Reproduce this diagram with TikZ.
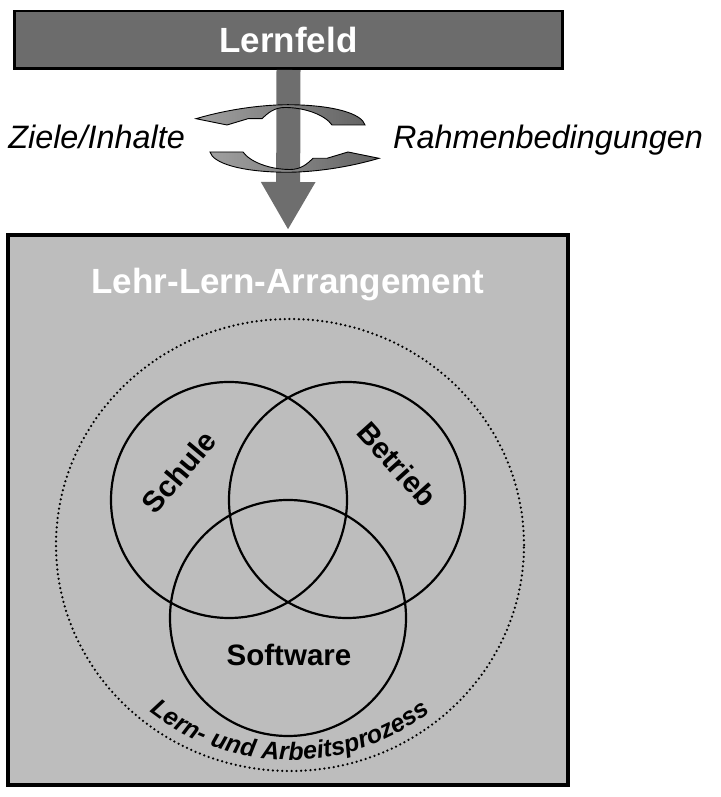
\documentclass[tikz,border=0pt]{standalone}
\usepackage{fontspec}
\setmainfont{Liberation Sans}
\usetikzlibrary{arrows.meta,positioning,decorations.text}
\definecolor{bargry}{RGB}{108,108,108}
\definecolor{boxgry}{RGB}{189,189,189}
\definecolor{arrgry}{RGB}{110,110,110}
\definecolor{turnlt}{RGB}{160,160,160}
\definecolor{turndk}{RGB}{100,100,100}
\newcommand\px[1]{\fontsize{#1}{#1}\selectfont}

\begin{document}
\begin{tikzpicture}[x=1pt,y=1pt,
  bar/.style={draw=black,line width=2.5pt,fill=bargry,minimum width=548pt,
    minimum height=57.5pt,inner sep=0pt,text=white,font=\px{35}\bfseries},
  arrbox/.style={draw=black,line width=4pt,fill=boxgry,minimum width=560pt,
    minimum height=550pt,inner sep=0pt},
  title/.style={inner sep=0pt,text=white,font=\px{35}\bfseries},
  side/.style={inner sep=0pt,font=\px{32.4}\itshape},
  ring/.style={draw=black,circle,line width=2.2pt,minimum size=236pt,inner sep=0pt},
  lbl/.style={inner sep=0pt,font=\px{29.5}\bfseries},
  downarr/.style={draw=arrgry,line width=24pt,shorten >=3pt,
    -{Triangle[width=51pt,length=48pt]}},
  turn/.style={left color=turnlt,right color=turndk,draw=black,line width=0.9pt}]
  \useasboundingbox (0,0) rectangle (720,797);
  \node[arrbox] (arrangement) at (288,287) {};
  \node[bar] (lernfeld) at (288.5,757) {Lernfeld};
  \draw[downarr] (lernfeld.south) -- (arrangement.north);
  \foreach \r in {0,180}
    \path[turn,rotate around={\r:(287.5,658.5)}] (365,672)
      .. controls (362,683) and (335,692) .. (288,692.3)
      .. controls (255,692) and (222,686) .. (196,678.3)
      -- (227,672) -- (248,678.3) -- (262,678.3)
      .. controls (268,684) and (274,689.5) .. (285,689.5)
      .. controls (305,689.5) and (325,682) .. (332,672) -- cycle;
  \node[side,anchor=base east] (ziele) at (185,648) {Ziele/Inhalte};
  \node[side,anchor=base west] (rahmen) at (393,648) {Rahmenbedingungen};
  \node[title,below=34.5pt of arrangement.north] (llatitle) {Lehr-Lern-Arrangement};
  \draw[line width=2.5pt,line cap=round,dash pattern=on 0pt off 4.7pt]
    (290,252) ellipse[x radius=234,y radius=226];
  \node[ring] (schule) at (229,297) {};
  \node[ring] (betrieb) at (347,297) {};
  \node[ring] (software) at (288,179) {};
  \node[lbl,rotate=50] (schuletxt) at (179,325) {Schule};
  \node[lbl,rotate=-48] (betriebtxt) at (397,333) {Betrieb};
  \node[lbl,anchor=base] (softwaretxt) at (289,131) {Software};
  \path[decorate,decoration={text along path,text align=center,
      text={|\px{25}\bfseries\itshape|Lern- und Arbeitsprozess}}]
    ([shift={(200:223 and 215)}]290,252)
    arc[start angle=200,end angle=340,x radius=223,y radius=215];
\end{tikzpicture}
\end{document}
